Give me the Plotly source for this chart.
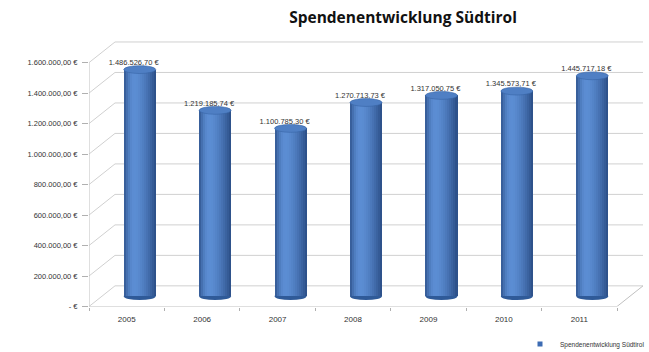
import plotly.graph_objects as go
import numpy as np

# ---- data ----
years = ["2005", "2006", "2007", "2008", "2009", "2010", "2011"]
values = [1486526.70, 1219185.74, 1100785.30, 1270713.73, 1317050.75, 1345573.71, 1445717.18]
value_labels = ["1.486.526,70 €", "1.219.185,74 €", "1.100.785,30 €", "1.270.713,73 €",
                "1.317.050,75 €", "1.345.573,71 €", "1.445.717,18 €"]
y_tickvals = [0, 200000, 400000, 600000, 800000, 1000000, 1200000, 1400000, 1600000]
y_ticktext = ["- €", "200.000,00 €", "400.000,00 €", "600.000,00 €", "800.000,00 €",
              "1.000.000,00 €", "1.200.000,00 €", "1.400.000,00 €", "1.600.000,00 €"]
series_name = "Spendenentwicklung Südtirol"
title_text = "Spendenentwicklung Südtirol"

# ---- geometry / style ----
W, H = 649, 352
ML, MR, MT, MB = 89, 6, 40, 41
PW, PH = W - ML - MR, H - MT - MB
n = len(years)
SP = 528 / n            # px per category (front plane)
SC = 155 / 1e6          # px per euro
DX, DY = 13, 10.5       # half depth offset (px)
BW = 32 / SP            # bar width in category units
BAR_COL = "#3d6cb3"

xr_front = [-0.5, -0.5 + PW / SP]
yr_front = [0, PH / SC]
xr_mid = [xr_front[0] - DX / SP, xr_front[1] - DX / SP]
yr_mid = [-DY / SC, (PH - DY) / SC]

xs = list(range(n))
fig = go.Figure()

# anchor trace for the front (labelled) axes + legend entry with small square
fig.add_trace(go.Scatter(x=[None], y=[None], mode="markers", name=series_name, showlegend=True,
                         marker=dict(symbol="square", size=5, color=BAR_COL),
                         xaxis="x", yaxis="y", hoverinfo="skip"))

# base bar
fig.add_trace(go.Bar(x=xs, y=values, width=BW, marker=dict(color=BAR_COL, line=dict(width=0)),
                     name=series_name, showlegend=False, xaxis="x2", yaxis="y2", hoverinfo="skip"))

# cylinder shading strips
NS = 16
dark = np.array([34, 66, 120])
light = np.array([92, 142, 212])
for k in range(NS):
    t = (k + 0.5) / NS
    if t < 0.33:
        s = 1 - ((0.33 - t) / 0.33) ** 2 * 0.75
    else:
        s = 1 - ((t - 0.33) / 0.67) ** 1.6 * 0.85
    c = dark + (light - dark) * s
    col = "rgb(%d,%d,%d)" % tuple(c.astype(int))
    fig.add_trace(go.Bar(x=xs, y=values, width=BW / NS * 1.08, offset=-BW / 2 + k * BW / NS,
                         marker=dict(color=col, line=dict(width=0)), showlegend=False,
                         xaxis="x2", yaxis="y2", hoverinfo="skip"))

# data labels
fig.add_trace(go.Scatter(x=[i - 6 / SP for i in xs], y=[v + 3 / SC for v in values], mode="text",
                         text=value_labels, textposition="top center",
                         textfont=dict(family="Liberation Sans", size=7.5, color="#333333"),
                         showlegend=False, xaxis="x2", yaxis="y2", hoverinfo="skip"))

shapes = []
grid_col = "#d0d0d0"
ex = DX / SP
ey = DY / SC
for v in y_tickvals:
    # back wall gridline
    shapes.append(dict(type="line", xref="x2", yref="y2", x0=-0.5 + ex, x1=n - 0.5 + ex,
                       y0=v + ey, y1=v + ey, line=dict(color=grid_col, width=1), layer="below"))
    # side diagonal
    shapes.append(dict(type="line", xref="x2", yref="y2", x0=-0.5 - ex, x1=-0.5 + ex,
                       y0=v - ey, y1=v + ey, line=dict(color=grid_col, width=1), layer="below"))
# floor front edge and right edge
shapes.append(dict(type="line", xref="x2", yref="y2", x0=-0.5 - ex, x1=n - 0.5 - ex,
                   y0=-ey, y1=-ey, line=dict(color="#c0c0c0", width=1), layer="below"))
shapes.append(dict(type="line", xref="x2", yref="y2", x0=n - 0.5 - ex, x1=n - 0.5 + ex,
                   y0=-ey, y1=ey, line=dict(color="#c0c0c0", width=1), layer="below"))
# vertical value axis line
shapes.append(dict(type="line", xref="x2", yref="y2", x0=-0.5 - ex, x1=-0.5 - ex,
                   y0=-ey, y1=y_tickvals[-1] - ey, line=dict(color="#c0c0c0", width=1), layer="below"))
# cylinder bottoms and tops
er = 4 / SC
for i, v in zip(xs, values):
    shapes.append(dict(type="circle", xref="x2", yref="y2", x0=i - BW / 2, x1=i + BW / 2,
                       y0=-er, y1=er, fillcolor="#2f5a98", line=dict(width=0), layer="below"))
    shapes.append(dict(type="circle", xref="x2", yref="y2", x0=i - BW / 2, x1=i + BW / 2,
                       y0=v - er, y1=v + er, fillcolor="#4f7fc4",
                       line=dict(color="#3764a6", width=0.6), layer="above"))

fig.update_layout(
    width=W, height=H, margin=dict(l=ML, r=MR, t=MT, b=MB),
    paper_bgcolor="white", plot_bgcolor="white",
    barmode="overlay", bargap=0,
    title=dict(text="<b>" + title_text + "</b>", x=403 / W, xref="container", xanchor="center",
               y=1 - 18 / H, yref="container", yanchor="middle",
               font=dict(family="Open Sans", size=15.5, color="#111111")),
    xaxis=dict(range=xr_front, tickvals=xs, ticktext=years, showgrid=False, zeroline=False,
               showline=False, ticks="", ticklabelstandoff=6,
               tickfont=dict(family="Liberation Sans", size=8, color="#333333"),
               minor=dict(tick0=-0.5, dtick=1, ticks="outside", ticklen=3, tickcolor="#b0b0b0"),
               fixedrange=True),
    yaxis=dict(range=yr_front, tickvals=y_tickvals, ticktext=y_ticktext, showgrid=False,
               zeroline=False, showline=False, ticks="outside", ticklen=6, tickcolor="#b0b0b0",
               ticklabelstandoff=3,
               tickfont=dict(family="Liberation Sans", size=7.5, color="#333333"), fixedrange=True),
    xaxis2=dict(range=xr_mid, overlaying="x", visible=False, fixedrange=True),
    yaxis2=dict(range=yr_mid, overlaying="y", visible=False, fixedrange=True),
    legend=dict(x=520 / W, xref="container", y=1 - 344 / H, yref="container", yanchor="middle",
                xanchor="left", orientation="h", itemwidth=30,
                font=dict(family="Liberation Sans", size=6.5, color="#333333"),
                bgcolor="rgba(0,0,0,0)"),
    shapes=shapes,
)

fig.write_html("out.html")
